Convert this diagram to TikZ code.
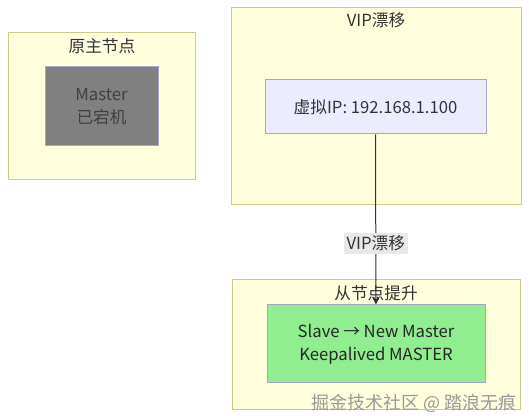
\documentclass[tikz,border=0pt]{standalone}
\usepackage{fontspec}
\setmainfont{Noto Sans CJK SC}
\usepackage{tikz}
\usetikzlibrary{arrows.meta}

\definecolor{clusterfill}{HTML}{FFFFDE}
\definecolor{clusterline}{HTML}{CCCC88}
\definecolor{nodefill}{HTML}{ECECFF}
\definecolor{nodeline}{HTML}{A9A3CC}
\definecolor{downfill}{HTML}{808080}
\definecolor{upfill}{HTML}{90EE90}
\definecolor{edgeline}{HTML}{333333}
\definecolor{labelfill}{HTML}{E8E8E8}

\tikzset{
  cluster/.style={draw=clusterline,fill=clusterfill,line width=0.75pt,inner sep=0pt},
  clustertitle/.style={font=\fontsize{12.5}{14}\selectfont,text=edgeline,inner sep=0pt},
  box/.style={draw=nodeline,line width=0.75pt,inner sep=0pt,align=center,
    text=edgeline,font=\fontsize{12.5}{17.5}\selectfont},
  flow/.style={-{Stealth[length=6pt,width=6pt]},draw=edgeline,line width=0.75pt},
}

\begin{document}
\begin{tikzpicture}[x=0.75pt,y=-0.75pt]
		% page frame
		\useasboundingbox (0,0) rectangle (529,416);
		% clusters
		\node[cluster,minimum width=187*0.75pt,minimum height=147*0.75pt] (oldgrp) at (101.5,106.5) {};
		\node[cluster,minimum width=290*0.75pt,minimum height=197*0.75pt] (vipgrp) at (376,106.5) {};
		\node[cluster,minimum width=288*0.75pt,minimum height=130*0.75pt] (newgrp) at (376,345) {};
		\node[clustertitle] (oldtitle) at (102,46) {原主节点};
		\node[clustertitle] (viptitle) at (376,20) {VIP漂移};
		\node[clustertitle] (newtitle) at (376,293) {从节点提升};
		% nodes
		\node[box,fill=downfill,text=black!75,minimum width=113*0.75pt,minimum height=79*0.75pt] (master) at (101.5,106.5) {Master\\已宕机};
		\node[box,fill=nodefill,minimum width=221*0.75pt,minimum height=54*0.75pt] (vip) at (375.5,107) {虚拟IP: 192.168.1.100};
		\node[box,fill=upfill,text=black!85,minimum width=218*0.75pt,minimum height=78*0.75pt] (slave) at (376,344) {Slave → New Master\\Keepalived MASTER};
		% drift
		\draw[flow] (vip) -- node[pos=0.64,fill=labelfill,inner sep=2pt,text=edgeline,font=\fontsize{12.5}{14}\selectfont] (driftlabel) {VIP漂移} (slave);
		% watermark
		\node[text=black!40,font=\fontsize{13.5}{15}\selectfont,inner sep=0pt] (mark) at (414,403) {掘金技术社区 @ 踏浪无痕};
	\end{tikzpicture}
\end{document}
